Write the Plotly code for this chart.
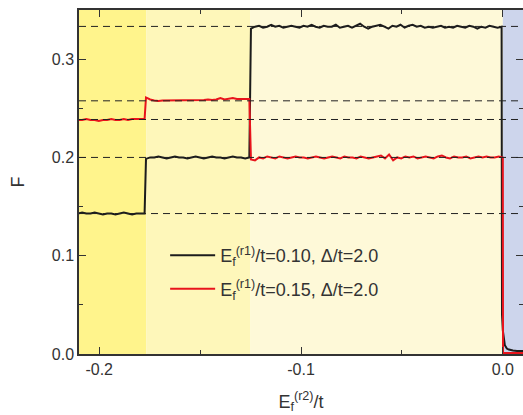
import numpy as np
import plotly.graph_objects as go

# ---- data ----
# step boundaries in E_f^(r2)/t
band_edges = [-0.21, -0.1767, -0.1250, 0.0, 0.01]
band_colors = ["#FFF48C", "#FEF7BA", "#FEF9D8", "#CDD5EC"]

# reference (dashed) levels of F
ref_levels = [0.3333, 0.2576, 0.2386, 0.2000, 0.1429]

# black series: E_f^(r1)/t = 0.10
black_seg1_x = [-0.2105, -0.1775]
black_seg1 = [0.143, 0.144, 0.143, 0.143, 0.144, 0.143, 0.142, 0.143, 0.143,
              0.142, 0.143, 0.144, 0.143, 0.142, 0.143, 0.143, 0.143]
black_seg2_x = [-0.1768, -0.1256]
black_seg2 = [0.1985, 0.200, 0.200, 0.201, 0.200, 0.199, 0.200, 0.201, 0.200,
              0.200, 0.199, 0.200, 0.201, 0.200, 0.199, 0.200, 0.201, 0.200,
              0.200, 0.199, 0.200, 0.201, 0.200, 0.200, 0.199, 0.200]
black_seg3_x = [-0.1248, -0.0006]
black_seg3 = [0.331, 0.333, 0.334, 0.332, 0.333, 0.335, 0.333, 0.334, 0.332,
              0.333, 0.334, 0.333, 0.332, 0.334, 0.333, 0.335, 0.333, 0.332,
              0.334, 0.333, 0.333, 0.335, 0.332, 0.333, 0.334, 0.332, 0.334,
              0.336, 0.333, 0.331, 0.333, 0.334, 0.335, 0.333, 0.331, 0.334,
              0.333, 0.335, 0.332, 0.334, 0.335, 0.333, 0.334, 0.332, 0.333,
              0.332, 0.333, 0.334, 0.332, 0.333, 0.332, 0.334, 0.333, 0.332,
              0.334, 0.333, 0.331, 0.333, 0.332, 0.334, 0.333, 0.332, 0.333]
black_tail_x = [-0.0004, 0.0, 0.0005, 0.001, 0.002, 0.003, 0.005, 0.007, 0.0105]
black_tail = [0.040, 0.024, 0.014, 0.009, 0.0055, 0.0045, 0.0035, 0.003, 0.003]

# red series: E_f^(r1)/t = 0.15
red_seg1_x = [-0.2105, -0.1775]
red_seg1 = [0.238, 0.238, 0.239, 0.238, 0.238, 0.237, 0.238, 0.238, 0.239,
            0.238, 0.238, 0.239, 0.238, 0.239, 0.239, 0.239, 0.239]
red_seg2_x = [-0.1768, -0.1256]
red_seg2 = [0.261, 0.259, 0.258, 0.2575, 0.258, 0.258, 0.2585, 0.258, 0.258,
            0.2585, 0.258, 0.2585, 0.258, 0.2585, 0.2585, 0.259, 0.2585, 0.259,
            0.2605, 0.259, 0.2595, 0.2605, 0.2595, 0.2595, 0.260, 0.2595]
red_seg3_x = [-0.1248, 0.0]
red_seg3 = [0.198, 0.197, 0.200, 0.199, 0.201, 0.200, 0.199, 0.201, 0.200,
            0.199, 0.200, 0.201, 0.200, 0.200, 0.199, 0.200, 0.201, 0.200,
            0.199, 0.200, 0.201, 0.200, 0.199, 0.201, 0.200, 0.200, 0.199,
            0.201, 0.200, 0.199, 0.200, 0.201, 0.202, 0.199, 0.203, 0.197,
            0.200, 0.199, 0.201, 0.200, 0.201, 0.199, 0.200, 0.201, 0.200,
            0.199, 0.201, 0.202, 0.200, 0.199, 0.201, 0.200, 0.200, 0.201,
            0.199, 0.200, 0.201, 0.200, 0.201, 0.200, 0.200, 0.201, 0.200]
red_tail_x = [0.0001, 0.0105]
red_tail = [0.001, 0.001]

x_ticks = [-0.2, -0.1, 0.0]
y_ticks = [0.0, 0.1, 0.2, 0.3]


def build(segs):
    xs, ys = [], []
    for (xr, vals) in segs:
        if len(xr) == len(vals):
            xs += list(xr)
        else:
            xs += list(np.linspace(xr[0], xr[1], len(vals)))
        ys += list(vals)
    return xs, ys


bx, by = build([(black_seg1_x, black_seg1), (black_seg2_x, black_seg2),
                (black_seg3_x, black_seg3), (black_tail_x, black_tail)])
rx, ry = build([(red_seg1_x, red_seg1), (red_seg2_x, red_seg2),
                (red_seg3_x, red_seg3), (red_tail_x, red_tail)])

fig = go.Figure()

for i, c in enumerate(band_colors):
    fig.add_vrect(x0=band_edges[i], x1=band_edges[i + 1], fillcolor=c,
                  line_width=0, layer="below", opacity=1)

for lv in ref_levels:
    fig.add_hline(y=lv, line=dict(color="#222222", width=1, dash="7px,5px"),
                  layer="above")

fig.add_trace(go.Scatter(x=bx, y=by, mode="lines",
                         line=dict(color="#1c1c1c", width=2),
                         legendgroup="a",
                         name="E<sub>f</sub><sup>(r1)</sup>/t=0.10, Δ/t=2.0"))
fig.add_trace(go.Scatter(x=rx, y=ry, mode="lines",
                         line=dict(color="#e8141c", width=2),
                         legendgroup="b",
                         name="E<sub>f</sub><sup>(r1)</sup>/t=0.15, Δ/t=2.0"))

axis_common = dict(showline=True, linecolor="#333333", linewidth=1.5,
                   mirror="allticks", ticks="inside", ticklen=7,
                   tickwidth=1.2, tickcolor="#333333", showgrid=False,
                   zeroline=False, automargin=False,
                   tickfont=dict(family="Liberation Sans, Arial", size=16,
                                 color="#333333"))

fig.update_xaxes(range=[-0.21, 0.01], tickvals=x_ticks,
                 ticktext=["-0.2", "-0.1", "0.0"],
                 minor=dict(dtick=0.05, ticklen=4, ticks="inside",
                            tickcolor="#333333", tickwidth=1.2),
                 title=dict(text="E<sub>f</sub><sup>(r2)</sup>/t",
                            font=dict(family="Liberation Sans, Arial", size=18,
                                      color="#333333"), standoff=18),
                 **axis_common)
fig.update_yaxes(range=[0, 0.35], tickvals=y_ticks,
                 ticktext=["0.0", "0.1", "0.2", "0.3"],
                 minor=dict(dtick=0.05, ticklen=4, ticks="inside",
                            tickcolor="#333333", tickwidth=1.2),
                 title=dict(text="F",
                            font=dict(family="Liberation Sans, Arial", size=18,
                                      color="#333333"), standoff=22),
                 **axis_common)

fig.update_layout(
    width=523, height=415,
    margin=dict(l=79, r=0, t=10, b=61),
    paper_bgcolor="white", plot_bgcolor="white",
    showlegend=True,
    legend=dict(x=0.194, y=0.238, xanchor="left", yanchor="middle",
                bgcolor="rgba(0,0,0,0)", borderwidth=0,
                tracegroupgap=7,
                font=dict(family="Liberation Sans, Arial", size=18,
                          color="#333333"),
                itemwidth=45),
)

fig.write_html("out.html",
               config={"displayModeBar": False},
               post_script="document.body.style.margin='0';"
                           "document.body.style.overflow='hidden';")
